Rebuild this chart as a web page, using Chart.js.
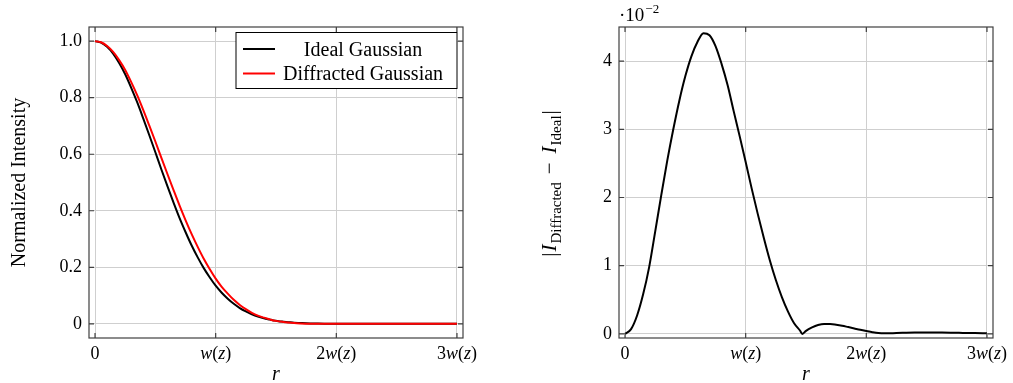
<!DOCTYPE html>
<html>
<head>
<meta charset="utf-8">
<script src="https://cdn.jsdelivr.net/npm/chart.js@4.4.1/dist/chart.umd.min.js"></script>
<style>
  html, body { margin: 0; padding: 0; background: #fff; }
  body { width: 1013px; height: 383px; position: relative; overflow: hidden; }
  .box { position: absolute; top: 0; height: 383px; }
  #leftBox { left: 0; width: 500px; }
  #rightBox { left: 500px; width: 513px; }
</style>
</head>
<body>
<div class="box" id="leftBox"><canvas id="intensityChart"></canvas></div>
<div class="box" id="rightBox"><canvas id="diffChart"></canvas></div>
<script>
// radial position r, in units of w(z)
const r = [0, 0.05, 0.1, 0.15, 0.2, 0.25, 0.3, 0.35, 0.4, 0.45,
  0.5, 0.55, 0.6, 0.65, 0.7, 0.75, 0.8, 0.85, 0.9, 0.95,
  1.0, 1.05, 1.1, 1.15, 1.2, 1.25, 1.3, 1.35, 1.4, 1.45,
  1.47, 1.5, 1.55, 1.6, 1.65, 1.7, 1.75, 1.8, 1.85, 1.9,
  1.95, 2.0, 2.05, 2.1, 2.15, 2.2, 2.3, 2.4, 2.5, 2.6,
  2.7, 2.8, 2.9, 3.0];

const idealGaussian = [1, 0.995, 0.980, 0.956, 0.923, 0.883, 0.835, 0.783, 0.726, 0.667,
  0.607, 0.546, 0.487, 0.430, 0.375, 0.325, 0.278, 0.236, 0.198, 0.165,
  0.135, 0.110, 0.089, 0.071, 0.056, 0.044, 0.034, 0.026, 0.020, 0.015,
  0.013, 0.011, 0.008, 0.006, 0.004, 0.003, 0.002, 0.0015, 0.001, 0.0007,
  0.0005, 0.0003, 0.0002, 0.0001, 0.0001, 0.0001, 0, 0, 0, 0,
  0, 0, 0, 0];

const diffractedGaussian = [1, 0.996, 0.983, 0.962, 0.933, 0.898, 0.855, 0.808, 0.756, 0.701,
  0.645, 0.587, 0.530, 0.474, 0.419, 0.367, 0.318, 0.273, 0.231, 0.194,
  0.160, 0.131, 0.107, 0.085, 0.067, 0.052, 0.039, 0.029, 0.022, 0.016,
  0.013, 0.0106, 0.0073, 0.0047, 0.0028, 0.0016, 0.0008, 0.0003, 0, 0,
  0, 0, 0, 0, 0, 0, 0, 0, 0, 0,
  0, 0, 0, 0];

// |I_Diffracted - I_Ideal| in units of 10^-2
const absDifference = [0, 0.07, 0.27, 0.58, 0.98, 1.5, 2.03, 2.54, 3.0, 3.42,
  3.78, 4.07, 4.28, 4.41, 4.38, 4.22, 3.96, 3.65, 3.27, 2.9,
  2.52, 2.13, 1.76, 1.41, 1.08, 0.79, 0.54, 0.33, 0.16, 0.05,
  0, 0.045, 0.095, 0.13, 0.145, 0.145, 0.135, 0.12, 0.1, 0.08,
  0.06, 0.042, 0.025, 0.012, 0.008, 0.01, 0.018, 0.022, 0.022, 0.02,
  0.018, 0.015, 0.012, 0.01];

const xTickValues = [0, 1, 2, 3];
const xTickLabels = ['0', 'w(z)', '2w(z)', '3w(z)'];
const leftYTicks = [0, 0.2, 0.4, 0.6, 0.8, 1.0];
const rightYTicks = [0, 1, 2, 3, 4];

const serif = "'Liberation Serif', 'Times New Roman', serif";
const gridColor = '#cfcfcf';
const frameColor = '#404040';

function fontFor(run) {
  return (run.italic ? 'italic ' : '') + run.size + 'px ' + serif;
}

// draws a list of text runs centred on cx
function drawRuns(ctx, runs, cx, baseline) {
  let total = 0;
  runs.forEach(run => {
    ctx.font = fontFor(run);
    run.w = ctx.measureText(run.text).width + (run.gap || 0);
    total += run.w;
  });
  let x = cx - total / 2;
  runs.forEach(run => {
    ctx.font = fontFor(run);
    ctx.fillText(run.text, x + (run.gap || 0) / 2, baseline + (run.dy || 0));
    x += run.w;
  });
}

// letters in italic, digits and brackets upright
function mathRuns(label, size) {
  const runs = [];
  for (const ch of label) {
    const italic = /[a-z]/.test(ch);
    const last = runs[runs.length - 1];
    if (last && last.italic === italic) last.text += ch;
    else runs.push({ text: ch, italic: italic, size: size });
  }
  return runs;
}

const framePlugin = {
  id: 'frame',
  afterDraw(chart) {
    const { ctx, chartArea: a, scales } = chart;
    ctx.save();
    ctx.strokeStyle = frameColor;
    ctx.lineWidth = 1.2;
    ctx.beginPath();
    scales.x.ticks.forEach(t => {
      const px = scales.x.getPixelForValue(t.value);
      ctx.moveTo(px, a.bottom); ctx.lineTo(px, a.bottom - 5);
      ctx.moveTo(px, a.top); ctx.lineTo(px, a.top + 5);
    });
    scales.y.ticks.forEach(t => {
      const py = scales.y.getPixelForValue(t.value);
      ctx.moveTo(a.left, py); ctx.lineTo(a.left + 5, py);
      ctx.moveTo(a.right, py); ctx.lineTo(a.right - 5, py);
    });
    ctx.stroke();
    ctx.strokeRect(a.left, a.top, a.right - a.left, a.bottom - a.top);

    ctx.fillStyle = '#000';
    ctx.textAlign = 'left';
    ctx.textBaseline = 'alphabetic';
    xTickValues.forEach((v, i) => {
      drawRuns(ctx, mathRuns(xTickLabels[i], 18), scales.x.getPixelForValue(v), a.bottom + 21);
    });
    drawRuns(ctx, [{ text: 'r', italic: true, size: 20 }], (a.left + a.right) / 2, 380);
    ctx.restore();
  }
};

const legendPlugin = {
  id: 'boxLegend',
  afterDraw(chart) {
    const { ctx, chartArea: a } = chart;
    const w = 221, h = 56;
    const x0 = a.right - 6 - w, y0 = a.top + 5.5;
    ctx.save();
    ctx.fillStyle = '#fff';
    ctx.fillRect(x0, y0, w, h);
    ctx.strokeStyle = '#000';
    ctx.lineWidth = 1;
    ctx.strokeRect(x0, y0, w, h);
    const rows = [
      { label: 'Ideal Gaussian', color: chart.data.datasets[1].borderColor, y: y0 + 16.5 },
      { label: 'Diffracted Gaussian', color: chart.data.datasets[0].borderColor, y: y0 + 41 }
    ];
    ctx.textAlign = 'left';
    ctx.textBaseline = 'alphabetic';
    rows.forEach(row => {
      ctx.strokeStyle = row.color;
      ctx.lineWidth = 2;
      ctx.beginPath();
      ctx.moveTo(x0 + 7, row.y);
      ctx.lineTo(x0 + 39, row.y);
      ctx.stroke();
      ctx.fillStyle = '#000';
      drawRuns(ctx, [{ text: row.label, italic: false, size: 20 }], x0 + 127, row.y + 6.5);
    });
    ctx.restore();
  }
};

const diffLabelsPlugin = {
  id: 'diffLabels',
  afterDraw(chart) {
    const { ctx, chartArea: a } = chart;
    ctx.save();
    ctx.fillStyle = '#000';
    ctx.textAlign = 'left';
    ctx.textBaseline = 'alphabetic';
    // exponent of the y axis
    ctx.font = '19px ' + serif;
    ctx.fillText('\u00b710', a.left, 20.5);
    const w10 = ctx.measureText('\u00b710').width;
    ctx.font = '13px ' + serif;
    ctx.fillText('\u22122', a.left + w10 + 1, 13);
    // rotated axis title
    ctx.translate(50, 183);
    ctx.rotate(-Math.PI / 2);
    drawRuns(ctx, [
      { text: '|', italic: false, size: 21 },
      { text: 'I', italic: true, size: 21, gap: 2 },
      { text: 'Diffracted', italic: false, size: 15, dy: 5 },
      { text: '\u2212', italic: false, size: 21, gap: 16 },
      { text: 'I', italic: true, size: 21, gap: 2 },
      { text: 'Ideal', italic: false, size: 15, dy: 5 },
      { text: '|', italic: false, size: 21, gap: 2 }
    ], 0, 6);
    ctx.restore();
  }
};

function xScale() {
  return {
    type: 'linear',
    min: -0.05,
    max: 3.05,
    afterBuildTicks: scale => { scale.ticks = xTickValues.map(v => ({ value: v })); },
    afterFit: scale => { scale.height = 45; },
    ticks: { display: false },
    grid: { color: gridColor, lineWidth: 1, drawTicks: false },
    border: { display: false }
  };
}

new Chart(document.getElementById('intensityChart').getContext('2d'), {
  type: 'line',
  data: {
    datasets: [
      {
        label: 'Diffracted Gaussian',
        data: r.map((x, i) => ({ x: x, y: diffractedGaussian[i] })),
        borderColor: '#ff0000',
        borderWidth: 2,
        pointRadius: 0,
        cubicInterpolationMode: 'monotone',
        fill: false
      },
      {
        label: 'Ideal Gaussian',
        data: r.map((x, i) => ({ x: x, y: idealGaussian[i] })),
        borderColor: '#000000',
        borderWidth: 2,
        pointRadius: 0,
        cubicInterpolationMode: 'monotone',
        fill: false
      }
    ]
  },
  options: {
    responsive: true,
    maintainAspectRatio: false,
    animation: false,
    layout: { autoPadding: false, padding: { left: 0, top: 27, right: 37, bottom: 0 } },
    plugins: { legend: { display: false }, tooltip: { enabled: false } },
    scales: {
      x: xScale(),
      y: {
        min: -0.05,
        max: 1.05,
        afterBuildTicks: scale => { scale.ticks = leftYTicks.map(v => ({ value: v })); },
        afterFit: scale => { scale.width = 89; },
        ticks: {
          color: '#000',
          padding: 7,
          font: { family: serif, size: 18 },
          callback: v => v === 0 ? '0' : v.toFixed(1)
        },
        title: {
          display: true,
          text: 'Normalized Intensity',
          color: '#000',
          font: { family: serif, size: 20 },
          padding: { top: 8, bottom: 0 }
        },
        grid: { color: gridColor, lineWidth: 1, drawTicks: false },
        border: { display: false }
      }
    }
  },
  plugins: [framePlugin, legendPlugin]
});

new Chart(document.getElementById('diffChart').getContext('2d'), {
  type: 'line',
  data: {
    datasets: [
      {
        label: '|I_Diffracted - I_Ideal|',
        data: r.map((x, i) => ({ x: x, y: absDifference[i] })),
        borderColor: '#000000',
        borderWidth: 2,
        pointRadius: 0,
        cubicInterpolationMode: 'monotone',
        fill: false
      }
    ]
  },
  options: {
    responsive: true,
    maintainAspectRatio: false,
    animation: false,
    layout: { autoPadding: false, padding: { left: 0, top: 27, right: 20, bottom: 0 } },
    plugins: { legend: { display: false }, tooltip: { enabled: false } },
    scales: {
      x: xScale(),
      y: {
        min: -0.06,
        max: 4.5,
        afterBuildTicks: scale => { scale.ticks = rightYTicks.map(v => ({ value: v })); },
        afterFit: scale => { scale.width = 119; },
        ticks: {
          color: '#000',
          padding: 7,
          font: { family: serif, size: 18 },
          callback: v => String(v)
        },
        grid: { color: gridColor, lineWidth: 1, drawTicks: false },
        border: { display: false }
      }
    }
  },
  plugins: [framePlugin, diffLabelsPlugin]
});
</script>
</body>
</html>
